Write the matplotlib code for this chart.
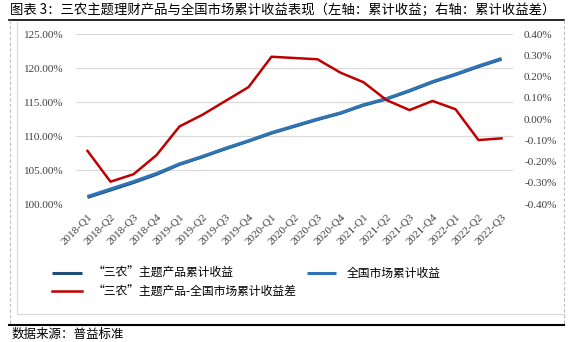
import matplotlib.pyplot as plt
import matplotlib.lines as mlines
import numpy as np

plt.rcParams['font.family'] = ['Noto Sans CJK SC', 'DejaVu Sans']

quarters = ['2018-Q1', '2018-Q2', '2018-Q3', '2018-Q4',
            '2019-Q1', '2019-Q2', '2019-Q3', '2019-Q4',
            '2020-Q1', '2020-Q2', '2020-Q3', '2020-Q4',
            '2021-Q1', '2021-Q2', '2021-Q3', '2021-Q4',
            '2022-Q1', '2022-Q2', '2022-Q3']

# cumulative return, %
market = [101.1, 102.2, 103.3, 104.5, 105.9, 107.0, 108.2, 109.3, 110.5, 111.5,
          112.5, 113.4, 114.6, 115.5, 116.7, 118.0, 119.1, 120.3, 121.4]
sannong = [100.97, 102.05, 103.15, 104.36, 105.82, 106.93, 108.12, 109.24, 110.42, 111.42,
           112.42, 113.34, 114.52, 115.43, 116.62, 117.92, 119.02, 120.2, 121.3]
# spread (sannong - market), %
spread = [-0.15, -0.295, -0.26, -0.17, -0.035, 0.02, 0.085, 0.15, 0.293, 0.287,
          0.281, 0.218, 0.173, 0.089, 0.042, 0.085, 0.046, -0.099, -0.091]

c_dark = '#1F4E79'
c_blue = '#2E75B6'
c_red = '#C00000'
tick_font = dict(family='Liberation Serif', size=8, color='#404040')

fig = plt.figure(figsize=(5.74, 3.42), dpi=100)
W, H = 574, 342

ax = fig.add_axes([76 / W, 1 - 204 / H, (513 - 76) / W, (204 - 34) / H])
ax2 = ax.twinx()
x = np.arange(len(quarters))

l1, = ax.plot(x, sannong, color=c_dark, lw=2.2, solid_capstyle='butt')
l2, = ax.plot(x, market, color=c_blue, lw=2.2, solid_capstyle='butt')
l3, = ax2.plot(x, spread, color=c_red, lw=1.8)

ax.set_xlim(-0.5, len(quarters) - 0.5)
ax.set_ylim(100, 125)
ax.set_yticks(np.arange(100, 126, 5))
ax.set_yticklabels([f'{v:.2f}%' for v in np.arange(100, 126, 5)], fontdict=tick_font)
ax2.set_ylim(-0.4, 0.4)
ax2.set_yticks(np.arange(-0.4, 0.41, 0.1))
ax2.set_yticklabels([f'{v:.2f}%' if abs(v) > 1e-9 else '0.00%' for v in np.arange(-0.4, 0.41, 0.1)],
                    fontdict=tick_font)
ax.set_xticks(x)
ax.set_xticklabels(quarters, rotation=45, ha='right', rotation_mode='anchor', fontdict=tick_font)

ax.grid(axis='y', color='#D9D9D9', lw=0.8)
ax.set_axisbelow(True)
for a in (ax, ax2):
    for s in a.spines.values():
        s.set_visible(False)
    a.tick_params(length=0)
ax.tick_params(axis='y', pad=9)
ax2.tick_params(axis='y', pad=8)
ax.tick_params(axis='x', pad=6)

# frame: black rules, dashed sides, light chart border
fig.add_artist(mlines.Line2D([9 / W, 564 / W], [1 - 19.5 / H] * 2, color='black', lw=1.2))
fig.add_artist(mlines.Line2D([9 / W, 564 / W], [1 - 325 / H] * 2, color='black', lw=1.5))
for xx in (9.5, 564):
    fig.add_artist(mlines.Line2D([xx / W] * 2, [1 - 20 / H, 1 - 324 / H], color='#BFBFBF',
                                 lw=0.8, ls=(0, (3, 2))))
fig.add_artist(mlines.Line2D([17 / W, 17 / W, 564 / W], [1 - 22 / H, 1 - 314 / H, 1 - 314 / H],
                             color='#D9D9D9', lw=0.8))

fig.text(10 / W, 1 - 10 / H, '图表 3：三农主题理财产品与全国市场累计收益表现（左轴：累计收益；右轴：累计收益差）',
         fontsize=9.6, va='center', ha='left', color='#000000')
fig.text(12 / W, 1 - 334 / H, '数据来源：普益标准', fontsize=9, va='center', ha='left')

fig.legend([l1, l3, l2],
           ['“三农”主题产品累计收益', '“三农”主题产品-全国市场累计收益差', '全国市场累计收益'],
           ncol=2, loc='upper left', bbox_to_anchor=(52 / W, 1 - 267 / H), frameon=False,
           fontsize=8.5, handlelength=2.5, handletextpad=0.9, columnspacing=0.9,
           labelspacing=0.45, borderpad=0, borderaxespad=0)

fig.savefig('out.png', dpi=100)
